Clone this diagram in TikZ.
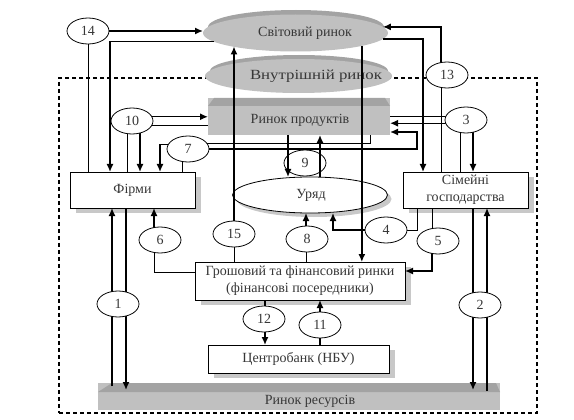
\documentclass[tikz,border=0pt]{standalone}
\usepackage{fontspec}
\setmainfont{Liberation Serif}
\usetikzlibrary{shapes.geometric,arrows.meta,shadows,calc}
\definecolor{mktlight}{RGB}{192,192,192}
\definecolor{mktdark}{RGB}{163,163,163}
\definecolor{shad}{RGB}{200,200,200}
\definecolor{txtc}{RGB}{55,55,55}
\pgfdeclarelayer{back}
\pgfdeclarelayer{lines}
\pgfdeclarelayer{front}
\pgfsetlayers{back,main,lines,front}
\begin{document}
\begin{tikzpicture}[x=1pt,y=-1pt,
  font=\fontsize{14}{17}\selectfont,
  every node/.style={text=txtc, inner sep=0pt, outer sep=0pt},
  ln/.style={line width=1pt},
  ar/.style={line width=1.4pt, -{Latex[length=8pt,width=7pt]}},
  numc/.style={ellipse, draw, fill=white, line width=0.8pt, minimum width=42pt, minimum height=26pt},
  boxw/.style={rectangle, draw, fill=white, line width=0.8pt,
    drop shadow={shadow xshift=6pt, shadow yshift=-5pt, fill=shad, opacity=1}},
  mkt/.style={ellipse, fill=mktlight},
  mkttop/.style={ellipse, fill=mktdark}]
\useasboundingbox (0,0) rectangle (574,420);
\begin{pgfonlayer}{back}
\fill[white] (0,0) rectangle (574,420);
\node[draw, dash pattern=on 4pt off 3pt, line width=1.1pt, minimum width=478pt, minimum height=335pt] (frame) at (298,245.5) {};
\end{pgfonlayer}

% markets
\node[mkttop, minimum width=176pt, minimum height=34pt] (worldtop) at (296,27) {};
\node[mkt, minimum width=185pt, minimum height=37pt] (world) at (295.5,33) {};
\node (worldtxt) at (305,33) {Світовий ринок};
\node[mkttop, minimum width=178pt, minimum height=32pt] (domtop) at (299,71) {};
\node[mkt, minimum width=187pt, minimum height=34pt] (dom) at (298.5,76) {};
\node (domtxt) at (316,76) {\scalebox{1.2}[1]{Внутрішній ринок}};

\node[rectangle, fill=mktlight, minimum width=182pt, minimum height=37pt] (prod) at (299,116.5) {};
\fill[mktdark] ($(prod.north west)+(0,8)$) -- ($(prod.north west)+(6,0)$) -- ($(prod.north east)+(-5,0)$) -- ($(prod.north east)+(0,8)$) -- cycle;
\node (prodtxt) at (300,120) {Ринок продуктів};

\node[rectangle, fill=mktlight, minimum width=402pt, minimum height=27pt] (res) at (299,396.5) {};
\fill[mktdark] ($(res.north west)+(0,9)$) -- ($(res.north west)+(14,0)$) -- ($(res.north east)+(-4,0)$) -- ($(res.north east)+(0,9)$) -- cycle;
\node (restxt) at (310,401) {Ринок ресурсів};

% agents
\node[boxw, minimum width=125pt, minimum height=36pt] (firms) at (132.5,190) {Фірми};
\node[boxw, minimum width=125pt, minimum height=36pt, align=center] (hh) at (465.5,190) {Сімейні\\господарства};
\node[boxw, minimum width=210pt, minimum height=38pt, align=center] (fin) at (300,281) {Грошовий та фінансовий ринки\\(фінансові посередники)};
\node[boxw, minimum width=181pt, minimum height=28pt] (cb) at (298.5,359) {Центробанк (НБУ)};
\node[ellipse, draw, fill=white, line width=0.8pt, minimum width=155pt, minimum height=36pt,
  drop shadow={shadow xshift=4pt, shadow yshift=-4pt, fill=shad, opacity=1}] (gov) at (310,195) {};
\node (govtxt) at (311,195) {Уряд};
\node[numc] (c9) at (305,163) {9};

\begin{pgfonlayer}{front}
\node[numc] (c14) at (88,31) {14};
\node[numc] (c13) at (447,75) {13};
\node[numc] (c10) at (132,121) {10};
\node[numc] (c3) at (466,120) {3};
\node[numc] (c7) at (188,149) {7};
\node[numc] (c6) at (160,240) {6};
\node[numc] (c15) at (234,234) {15};
\node[numc] (c8) at (307,239) {8};
\node[numc] (c4) at (386,230) {4};
\node[numc] (c5) at (438,241) {5};
\node[numc] (c1) at (118,304) {1};
\node[numc] (c2) at (480,305) {2};
\node[numc] (c12) at (264,319) {12};
\node[numc] (c11) at (320,325) {11};
\end{pgfonlayer}

\begin{pgfonlayer}{lines}
% 14
\draw[ln] (c14.center) -- (c14.center |- firms.north);
\draw[ar] (c14.east) -- (c14.east -| world.west);
\draw[ar] (world.186) -| (firms.north -| 110,0);
% 13
\draw[ar] (c13.center -| 441,0) |- (world.4);
\draw[ln] (c13.center -| 441,0) -- (hh.north -| 441,0);
\draw[ar] (world.-4) -| (hh.north -| 423,0);
% 10
\draw[ln] (firms.north -| 127,0) -- (c10.center -| 127,0);
\draw[ar] (c10.center -| 140,0) -- (firms.north -| 140,0);
\draw[ar] (c10.12) -- (c10.12 -| prod.west);
\draw[ln] (c10.-14) -- (c10.-14 -| prod.west);
% 3
\draw[ln] (c3.171) -- (c3.171 -| prod.east);
\draw[ar] (c3.189) -- (c3.189 -| prod.east);
\draw[ln] (hh.north -| 460,0) -- (c3.center -| 460,0);
\draw[ar] (c3.center -| 473,0) -- (hh.north -| 473,0);
% 7
\draw[ln] (firms.north -| 182,0) -- (c7.center -| 182,0);
\draw[ar] (c7.168) -| (firms.north -| 160,0);
\draw[ln] (c7.17) -| (prod.south -| 370,0);
\draw[ar] (c7.east) -| (417,132) -- (417,132 -| prod.east);
% 9
\draw[ar] (prod.south -| 288,0) -- (gov.north -| 288,0);
\draw[ar] (gov.north -| 320,0) -- (prod.south -| 320,0);
% 15 and world -> finance
\draw[ln] (fin.north -| c15.center) -- (c15.center);
\draw[ar] (c15.center) -- (c15.center |- world.192);
\draw[ar] (world.-11) -- (world.-11 |- fin.north);
% 8
\draw[ln] (fin.north -| 306,0) -- (c8.center -| 306,0);
\draw[ar] (c8.center -| 306,0) -- (gov.south -| 306,0);
% 4
\draw[ln] (hh.south -| 417,0) |- (c4.center);
\draw[ar] (c4.center) -| (gov.south -| 333,0);
% 5
\draw[ln] (hh.south -| 432,0) -- (c5.center -| 432,0);
\draw[ar] (c5.center -| 432,0) |- (fin.east |- 0,271);
% 6
\draw[ln] (fin.west |- 0,272) -| (c6.center -| 154,0);
\draw[ar] (c6.center -| 154,0) -- (firms.south -| 154,0);
% 12, 11
\draw[ar] (fin.south -| 265,0) -- (cb.north -| 265,0);
\draw[ar] (cb.north -| 320,0) -- (fin.south -| 320,0);
% 1
\draw[ar] ($(res.north -| 112,0)+(0,3)$) -- (firms.south -| 112,0);
\draw[ar] (firms.south -| 126,0) -- ($(res.north -| 126,0)+(0,7)$);
% 2
\draw[ar] (hh.south -| 473,0) -- ($(res.north -| 473,0)+(0,7)$);
\draw[ar] ($(res.north -| 487,0)+(0,8)$) -- (hh.south -| 487,0);
\end{pgfonlayer}
\end{tikzpicture}
\end{document}
